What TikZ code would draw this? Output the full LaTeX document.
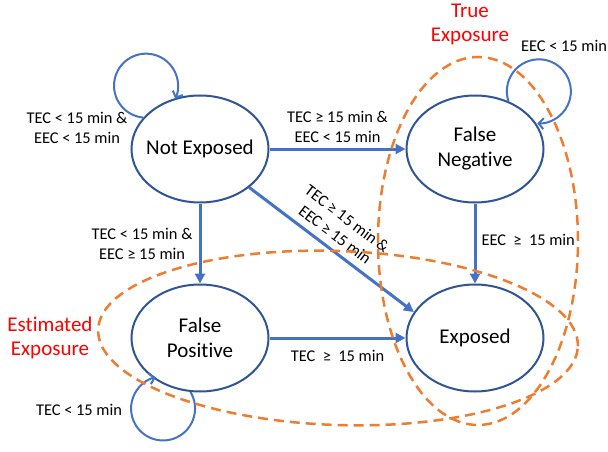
\documentclass[tikz,border=0pt]{standalone}
\usepackage{fontspec}
\setmainfont{Carlito}[Ligatures=NoCommon]
\usetikzlibrary{arrows.meta,shapes.geometric}

\definecolor{stateblue}{HTML}{2F5597}
\definecolor{arrowblue}{HTML}{4472C4}
\definecolor{zoneorange}{HTML}{ED7D31}

\begin{document}
\begin{tikzpicture}[x=1pt, y=1pt,
  state/.style={ellipse, draw=stateblue, line width=2pt, fill=white,
    minimum width=137pt, minimum height=107pt, inner sep=0pt, inner xsep=-8pt,
    align=center, font=\fontsize{21}{25}\selectfont},
  trans/.style={draw=arrowblue, line width=3pt, -{Triangle[length=10pt,width=10pt]}},
  selfloop/.style={draw=arrowblue, line width=2pt, -{Straight Barb[length=5pt,width=11pt]}},
  cond/.style={font=\fontsize{16.4}{20}\selectfont, align=center, inner sep=2pt},
  zone/.style={draw=zoneorange, line width=2.5pt, dash pattern=on 10pt off 6pt},
  zonelabel/.style={text=red, font=\fontsize{21}{24}\selectfont, align=center}]

  \useasboundingbox (0,0) rectangle (608,451);

  % 状态
  \node[state] (ne) at (200,302) {Not Exposed};
  \node[state] (fn) at (475,302) {False\\Negative};
  \node[state] (fp) at (200,113) {False\\Positive};
  \node[state] (ex) at (475,113) {Exposed};

  % 状态转移
  \draw[trans] (ne) -- node[cond, above=3pt] (c1) {TEC ≥ 15 min \&\\EEC < 15 min} (fn);
  \draw[trans] (ne) -- node[cond, left=4pt] (c2) {TEC < 15 min \&\\EEC ≥ 15 min} (fp);
  \draw[trans] (ne.-38) -- node[cond, sloped, above=5pt, pos=0.47] (c3) {TEC ≥ 15 min \&\\EEC ≥ 15 min} (ex.157);
  \draw[trans] (fn) -- node[cond, right=3pt, pos=0.45] (c4) {EEC\ \ ≥\ \ 15 min} (ex);
  \draw[trans] (fp) -- node[cond, below=9pt] (c5) {TEC\ \ ≥\ \ 15 min} (ex);

  % 自环
  \draw[selfloop] (ne.151) arc[start angle=-95, end angle=-384, radius=32pt];
  \draw[selfloop] (fn.55) arc[start angle=198, end angle=-93, radius=32pt];
  \draw[selfloop] (fp.-100) arc[start angle=31, end angle=-257, radius=32pt];
  \node[cond] (c6) at (77,323) {TEC < 15 min \&\\EEC < 15 min};
  \node[cond] (c7) at (564,405) {EEC < 15 min};
  \node[cond] (c8) at (79,41) {TEC < 15 min};

  % 暴露区域
  \draw[zone] (478,210) ellipse[x radius=100pt, y radius=184pt];
  \draw[zone, rotate around={-2:(338,113)}] (338,113) ellipse[x radius=240pt, y radius=87pt];
  \node[zonelabel] (tz) at (470,427) {True\\Exposure};
  \node[zonelabel] (ez) at (50,113) {Estimated\\Exposure};
\end{tikzpicture}
\end{document}
